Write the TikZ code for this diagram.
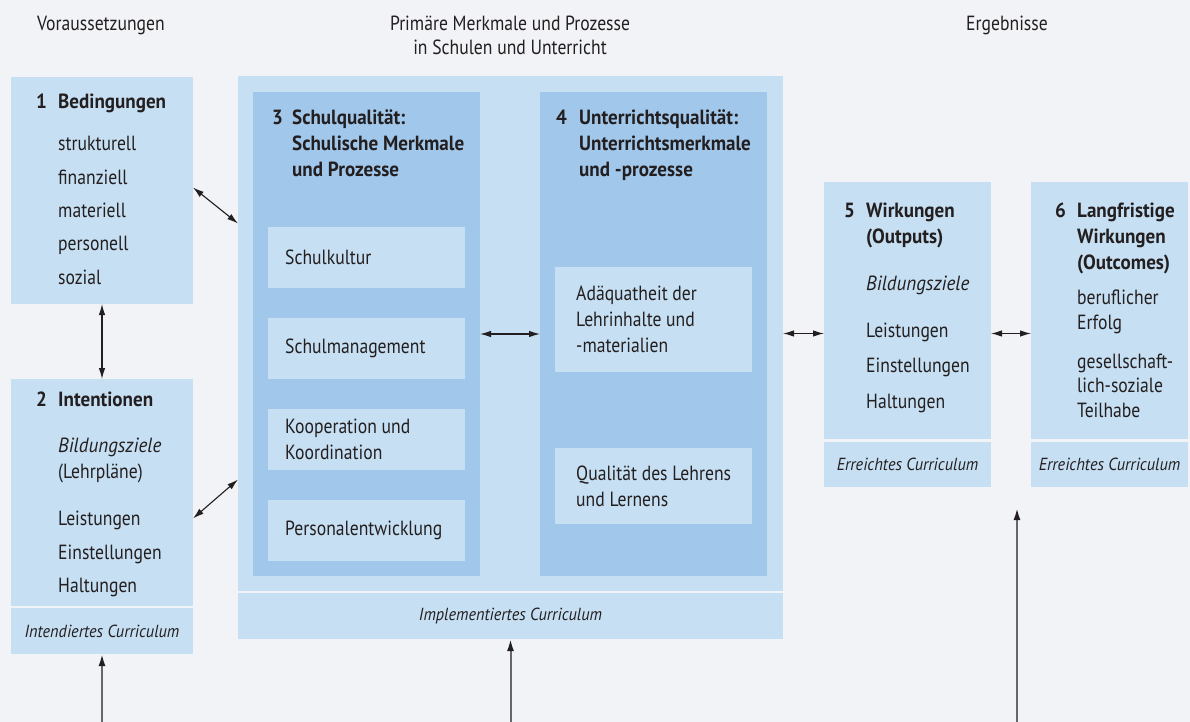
\documentclass[tikz,border=0pt]{standalone}
\usepackage{fontspec}
\setmainfont[FakeStretch=0.86, BoldFeatures={FakeStretch=0.93},
  ItalicFeatures={FakeStretch=0.93}]{PT Sans}
\usetikzlibrary{arrows.meta, positioning}

\definecolor{bgGray}{HTML}{F1F3F7}
\definecolor{paleBlue}{HTML}{C6DFF2}
\definecolor{midBlue}{HTML}{A1C7EA}
\definecolor{inkBlack}{HTML}{231F20}
\definecolor{stemGray}{HTML}{676767}

\tikzset{
  box/.style = {anchor=north west, inner sep=0pt, outer sep=0pt, fill=paleBlue},
  inbox/.style = {box, fill=midBlue},
  subtxt/.style = {anchor=west, inner sep=0pt, align=left, text=inkBlack,
    font=\fontsize{20.5}{26}\selectfont},
  txt/.style = {anchor=base west, inner sep=0pt, align=left, text=inkBlack,
    font=\fontsize{20.5}{26}\selectfont},
  ttl/.style = {txt, font=\fontsize{20.5}{26}\selectfont\bfseries},
  head/.style = {anchor=base, inner sep=0pt, align=center, text=inkBlack,
    font=\fontsize{20.5}{24}\selectfont},
  curr/.style = {inner sep=0pt, text=inkBlack, font=\fontsize{17.5}{20}\selectfont\itshape},
  both/.style = {{Latex[length=11pt,width=6.5pt]}-{Latex[length=11pt,width=6.5pt]},
    line width=1.1pt, draw=inkBlack},
  rise/.style = {-{Latex[length=12pt,width=7pt,color=inkBlack]}, line width=2pt, draw=stemGray}
}

\begin{document}
\begin{tikzpicture}[x=1pt, y=-1pt]

    % Background
    \fill[bgGray] (0,0) rectangle (1190,722);
    \useasboundingbox (0,0) rectangle (1190,722);

    % Column heads (base = last line)
    \node[head] (hvor) at (101,31) {Voraussetzungen};
    \node[head] (hprim) at (510,55) {Primäre Merkmale und Prozesse\\in Schulen und Unterricht};
    \node[head] (herg) at (1007,31) {Ergebnisse};

    % Box 1
    \node[box, minimum width=182pt, minimum height=227pt] (bed) at (11,77) {};
    \node[ttl] (n1) at (36,109) {1};
    \node[ttl] (t1) at (58,109) {Bedingungen};
    \node[txt] (l11) at (58,151) {strukturell};
    \node[txt] (l12) at (58,184) {finanziell};
    \node[txt] (l13) at (58,217) {materiell};
    \node[txt] (l14) at (58,250) {personell};
    \node[txt] (l15) at (58,284) {sozial};

    % Box 2
    \node[box, minimum width=182pt, minimum height=227pt] (int) at (11,379) {};
    \node[box, minimum width=182pt, minimum height=46pt] (intband) at (11,608) {};
    \node[ttl] (n2) at (36,406) {2};
    \node[ttl] (t2) at (58,406) {Intentionen};
    \node[txt] (l21) at (58,478) {\itshape Bildungsziele\\(Lehrpläne)};
    \node[txt] (l22) at (58,525) {Leistungen};
    \node[txt] (l23) at (58,559) {Einstellungen};
    \node[txt] (l24) at (58,592) {Haltungen};
    \node[curr] (c2) at (intband) {Intendiertes Curriculum};

    % Schools and teaching
    \node[box, minimum width=545pt, minimum height=515pt] (schul) at (238,76) {};
    \node[box, minimum width=545pt, minimum height=46pt] (schulband) at (238,593) {};
    \node[curr] (c34) at (schulband) {Implementiertes Curriculum};

    % Box 3
    \node[inbox, minimum width=227pt, minimum height=484pt] (sq) at (253,92) {};
    \node[ttl] (n3) at (272,125) {3};
    \node[ttl] (t3) at (292,177) {Schulqualität:\\Schulische Merkmale\\und Prozesse};
    \node[box, minimum width=197pt, minimum height=61pt] (s31) at (268,227) {};
    \node[box, minimum width=197pt, minimum height=61pt] (s32) at (268,318) {};
    \node[box, minimum width=197pt, minimum height=61pt] (s33) at (268,409) {};
    \node[box, minimum width=197pt, minimum height=61pt] (s34) at (268,500) {};
    \node[subtxt, right=17pt of s31.west] (q31) {Schulkultur};
    \node[subtxt, right=17pt of s32.west] (q32) {Schulmanagement};
    \node[subtxt, right=17pt of s33.west] (q33) {Kooperation und\\Koordination};
    \node[subtxt, right=17pt of s34.west] (q34) {Personalentwicklung};

    % Box 4
    \node[inbox, minimum width=227pt, minimum height=484pt] (uq) at (540,92) {};
    \node[ttl] (n4) at (556,125) {4};
    \node[ttl] (t4) at (579,177) {Unterrichtsqualität:\\Unterrichtsmerkmale\\und -prozesse};
    \node[box, minimum width=197pt, minimum height=105pt] (s41) at (555,267) {};
    \node[box, minimum width=197pt, minimum height=76pt] (s42) at (555,448) {};
    \node[subtxt, right=21pt of s41.west] (q41) {Adäquatheit der\\Lehrinhalte und\\-materialien};
    \node[subtxt, right=21pt of s42.west] (q42) {Qualität des Lehrens\\und Lernens};

    % Box 5
    \node[box, minimum width=167pt, minimum height=257pt] (wirk) at (824,182) {};
    \node[box, minimum width=167pt, minimum height=45pt] (wirkband) at (824,442) {};
    \node[ttl] (n5) at (844,217) {5};
    \node[ttl] (t5) at (866,243) {Wirkungen\\(Outputs)};
    \node[txt] (l51) at (866,290) {\itshape Bildungsziele};
    \node[txt] (l52) at (866,337) {Leistungen};
    \node[txt] (l53) at (866,372) {Einstellungen};
    \node[txt] (l54) at (866,408) {Haltungen};
    \node[curr] (c5) at (wirkband) {Erreichtes Curriculum};

    % Box 6
    \node[box, minimum width=157pt, minimum height=257pt] (langfr) at (1031,182) {};
    \node[box, minimum width=157pt, minimum height=45pt] (langband) at (1031,442) {};
    \node[ttl] (n6) at (1055,217) {6};
    \node[ttl] (t6) at (1077,269) {Langfristige\\Wirkungen\\(Outcomes)};
    \node[txt, font=\fontsize{20.5}{24.5}\selectfont] (l61) at (1077,329) {beruflicher\\Erfolg};
    \node[txt, font=\fontsize{20.5}{24.5}\selectfont] (l62) at (1077,417) {gesellschaft-\\lich-soziale\\Teilhabe};
    \node[curr] (c6) at (langband) {Erreichtes Curriculum};

    % Arrows
    \draw[both] ([yshift=3pt]bed.east) -- ([yshift=110pt]schul.west);
    \draw[both] ([yshift=-26pt]int.east) -- ([yshift=-146pt]schul.west);
    \draw[both] (bed.south) -- (int.north);
    \draw[both] (sq.east) -- (uq.west);
    \draw[both] (schul.east) -- (schul.east -| wirk.west);
    \draw[both] (wirk.east |- schul.east) -- (langfr.west |- schul.east);

    % Inputs from below
    \coordinate (bottom) at (0,722);
    \coordinate (erg) at (1017,508);
    \draw[rise] (intband.south |- bottom) -- (intband.south);
    \draw[rise] (schulband.south |- bottom) -- (schulband.south);
    \draw[rise] (erg |- bottom) -- (erg);

\end{tikzpicture}
\end{document}
